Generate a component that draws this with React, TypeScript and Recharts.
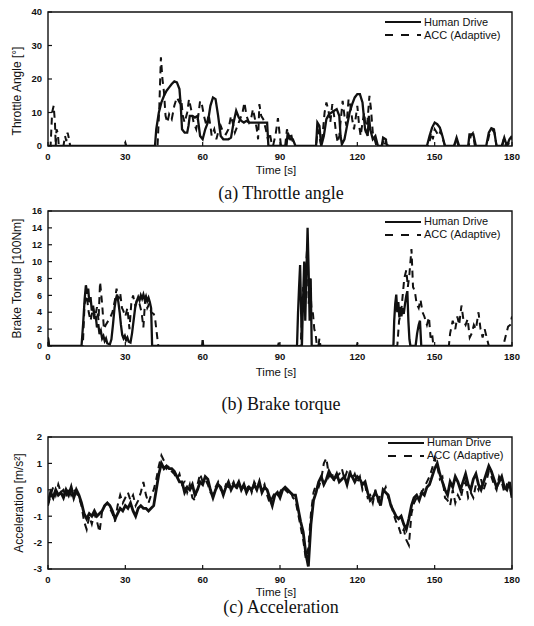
import React from 'react';
import { LineChart, Line, XAxis, YAxis, ReferenceArea, Label } from 'recharts';

type Pt = [number, number];

const timeTicks = [0, 30, 60, 90, 120, 150, 180];
const throttleTicks = [0, 10, 20, 30, 40];
const brakeTicks = [0, 2, 4, 6, 8, 10, 12, 14, 16];
const accelTicks = [-3, -2, -1, 0, 1, 2];

// (time [s], throttle angle [deg])
const throttleHuman: Pt[] = [
  [0, 0], [41.5, 0], [42, 5], [43, 10], [44, 13], [45, 15], [46, 16.5], [47, 17.5], [48, 18.5], [49, 19.3],
  [50, 19], [51, 17], [51.5, 12], [52, 5], [53, 4], [54, 4], [54.5, 6], [55, 9], [56, 9], [57, 8.5], [58, 9],
  [58.5, 6], [59, 3], [60, 2], [61, 5], [62, 7], [63, 12], [64, 14.5], [65, 14], [66, 9], [67, 3], [68, 2],
  [69, 2], [70, 2], [71, 2.5], [72, 7], [73, 10.5], [74, 8.5], [75, 7.5], [76, 7], [77, 7.5], [78, 7], [80, 7],
  [82, 7], [84, 7], [85, 7], [85.5, 0], [92.5, 0], [93, 4], [94, 2], [95, 2], [96, 0], [104, 0], [104.5, 7],
  [105.3, 6], [106, 0], [107, 3], [108, 8], [109, 9.5], [110, 10], [111, 10.5], [112, 11], [113, 9], [113.5, 3],
  [114, 0.5], [115, 2], [116, 6], [117, 10], [118, 12.5], [119, 14.5], [120, 15.5], [121, 15.5], [122, 13],
  [123, 5], [124, 3], [124.5, 9], [125, 5], [126, 2], [127, 3], [128, 0], [129.5, 0], [130, 2.5], [131, 2],
  [131.5, 0], [147, 0], [148, 3], [149, 5.5], [150, 7], [151, 6.5], [152, 5.5], [153, 3], [154, 0], [157.5, 0],
  [158.5, 2.5], [159.5, 0], [163, 0], [163.5, 3.5], [165, 3.5], [166, 0], [170, 0], [171, 4], [172, 5.3],
  [173, 5], [174, 0], [176, 0], [177, 2.5], [178, 0], [179, 2], [180, 3],
];

const throttleAcc: Pt[] = [
  [0, 0], [1, 0], [1.6, 10], [2.2, 12], [2.7, 7], [3, 0], [3.3, 5], [3.8, 4], [4.2, 0], [6, 0], [6.6, 3],
  [7.1, 1.5], [7.6, 4], [8.2, 2], [8.6, 0], [29.5, 0], [30, 1], [30.4, 0], [42.5, 0], [43.2, 12], [43.8, 26.5],
  [44.4, 20], [45, 16], [45.6, 9], [46.3, 7], [47, 9.5], [48, 8], [49, 12], [50, 14.5], [51, 13], [51.7, 14],
  [52.3, 9], [53, 7], [54, 10], [54.7, 14], [55.5, 11], [56.5, 7], [57.5, 5], [58.3, 9], [59, 13.5], [59.8, 12],
  [60.5, 9], [61.5, 6], [62.3, 9.5], [63, 6], [63.5, 3], [64.5, 5], [65.3, 2], [66, 4], [67, 6], [68, 4],
  [69, 3.5], [70, 5], [71, 9], [71.8, 6.5], [72.5, 4], [73.5, 6], [74.5, 8], [75.4, 9.7], [76.2, 13], [77, 9],
  [78, 7], [78.8, 8.2], [79.5, 11], [80.3, 8], [81, 5], [81.5, 2], [82, 12.5], [82.7, 9], [83.5, 8], [84.5, 5],
  [85.3, 2], [86, 4], [86.7, 1], [87.3, 0], [88.3, 3.5], [89.2, 8.3], [89.8, 4], [90.4, 0], [92, 0], [92.7, 5],
  [93.4, 2], [94.2, 4], [95, 1], [95.8, 0], [104, 0], [104.6, 5], [105.2, 3], [106, 0], [106.6, 4], [107.3, 10],
  [108, 13], [108.7, 11], [109.5, 7], [110.3, 12.5], [111, 9], [111.7, 4], [112.4, 1], [113, 3], [113.6, 8],
  [114.3, 13.5], [115, 9], [115.8, 6], [116.6, 14], [117.3, 12], [118, 8], [118.7, 5], [119.3, 8], [120, 12],
  [120.7, 6], [121.3, 3], [122, 7], [122.7, 10], [123.3, 4], [124, 8], [124.7, 15], [125.3, 11], [126, 4],
  [126.7, 2], [127.4, 0], [129.6, 0], [130.2, 2], [130.8, 0.5], [131.2, 2], [131.8, 0], [147.8, 0], [148.6, 4],
  [149.3, 2], [150, 5], [150.8, 4], [151.5, 3], [152.3, 4.5], [153.2, 2], [154, 0], [157.6, 0], [158.4, 2],
  [159.2, 0], [163.2, 0], [164, 3], [164.8, 3.8], [165.6, 0], [170.2, 0], [171.2, 3.5], [172.2, 5], [173.2, 4],
  [174, 0], [176.3, 0], [176.8, 2], [177.5, 0], [178.6, 0.5], [179.3, 2.5], [180, 2],
];

// (time [s], brake torque [100Nm])
const brakeHuman: Pt[] = [
  [0, 1], [0.4, 0], [13, 0], [13.6, 2.5], [14.2, 5.5], [14.7, 7.2], [15.2, 6.2], [15.6, 6.8], [16, 5.2],
  [16.5, 5.8], [17, 4.2], [17.5, 4.8], [18, 3.2], [18.5, 3.6], [19, 2.2], [19.5, 2.6], [20, 1.4], [20.5, 1.8],
  [21, 0.9], [21.5, 1.2], [22, 0.6], [22.5, 0.9], [23, 0.3], [24, 0.2], [24.6, 0.8], [25.2, 2.5], [25.8, 4.5],
  [26.3, 5.5], [26.8, 6.1], [27.3, 5.2], [27.8, 4], [28.3, 2.5], [28.8, 1.3], [29.3, 0.9], [29.8, 1.2],
  [30.3, 0.7], [30.8, 1], [31.3, 0.5], [32, 0.4], [32.6, 1.5], [33.2, 3], [33.8, 4.5], [34.4, 5.3], [35, 5.8],
  [35.5, 5.4], [36, 6], [36.5, 5.6], [37, 6.1], [37.5, 5.5], [38, 5.9], [38.5, 5.3], [39, 5.7], [39.5, 5.2],
  [40, 4.5], [40.4, 0], [59.8, 0], [60, 0.7], [60.2, 0], [96.6, 0], [97, 4], [97.4, 7], [97.8, 9.6], [98.2, 4],
  [98.5, 0], [98.9, 5], [99.4, 10], [99.8, 3], [100.2, 8], [100.7, 14], [101.1, 9], [101.5, 3], [101.9, 8],
  [102.3, 0], [134, 0], [134.3, 3], [134.7, 5], [135.1, 6.1], [135.5, 4], [135.9, 5.2], [136.3, 3.4],
  [136.7, 4.6], [137.1, 3.5], [137.5, 4.5], [138, 3.8], [138.5, 5], [139, 6], [139.4, 6.5], [139.8, 3],
  [140.2, 0.8], [140.6, 0], [142.6, 0], [143.2, 1.5], [143.8, 2.5], [144.3, 3], [144.8, 0], [180, 0],
];

const brakeAcc: Pt[] = [
  [0, 1], [0.4, 0], [13.5, 0], [14.2, 5], [15, 6], [15.8, 4], [16.5, 3], [17.5, 4.5], [18.3, 3.5], [19, 4.6],
  [19.6, 3], [20.2, 7.6], [21, 5], [21.7, 2], [22.4, 2.5], [23.4, 3], [24.3, 3.5], [25, 4], [26, 5.5],
  [26.6, 6.8], [27.3, 5.5], [28, 6.3], [28.7, 4.5], [29.2, 4.2], [30, 3.5], [30.8, 4.5], [31.6, 2], [32.3, 5],
  [33, 6], [33.8, 4.8], [34.6, 5.5], [35.5, 5], [36.3, 4], [37, 2.2], [37.7, 5.5], [38.5, 4.5], [39.3, 5],
  [40, 4], [41, 3.8], [41.5, 3.4], [42, 2], [42.4, 1], [42.8, 0], [89.2, 0], [89.5, 0.4], [89.8, 0], [98, 0],
  [98.5, 3], [99, 7], [99.5, 4], [100, 9], [100.6, 12], [101.1, 5], [101.6, 8], [102.2, 4.5], [102.8, 3.8],
  [103.3, 2], [103.8, 1.5], [104.3, 0], [104.9, 0], [105.3, 0.9], [105.7, 0], [119.8, 0], [120.2, 0.5],
  [120.5, 0], [135.5, 0], [136.2, 3], [137, 4], [137.6, 6], [138.2, 8], [139, 9], [139.6, 7], [140.2, 8.5],
  [141, 11.5], [141.6, 7], [142.3, 6.5], [143, 5], [143.8, 4.5], [144.5, 5.5], [145.3, 4], [146, 3.5],
  [147, 2.5], [147.8, 3.4], [148.4, 1], [149, 1.5], [149.5, 0], [155.5, 0], [156, 1.5], [157, 3], [158, 2],
  [158.8, 3.5], [159.5, 2.5], [160.4, 4.8], [161.2, 3], [162, 2.5], [162.8, 3.2], [163.6, 1], [164.4, 1.5],
  [165.2, 2.5], [166, 2], [167, 4], [167.8, 2], [168.6, 1], [169.4, 2], [170.2, 1], [171, 0], [176.5, 0],
  [177, 0.5], [177.8, 1.5], [178.5, 2.3], [179.3, 2.5], [180, 3.5],
];

// (time [s], acceleration [m/s^2])
const accelHuman: Pt[] = [
  [0, -0.5], [1, -0.1], [2, -0.3], [3, 0], [4, -0.2], [5, -0.1], [6, -0.3], [7, 0], [8, -0.2], [9, 0.1],
  [10, -0.3], [11, 0], [12, -0.2], [13, -0.5], [14, -0.9], [15, -1.1], [16, -0.9], [17, -1], [18, -0.8],
  [19, -1], [20, -0.9], [21, -0.8], [22, -0.6], [23, -0.5], [24, -0.6], [25, -0.8], [26, -1.1], [27, -0.9],
  [28, -0.7], [29, -0.8], [30, -0.6], [31, -0.7], [32, -0.5], [33, -0.8], [34, -1], [35, -0.7], [36, -0.6],
  [37, -0.7], [38, -0.7], [39, -0.8], [40, -0.7], [41, -0.6], [42, 0], [43, 0.6], [44, 1], [45, 0.8],
  [46, 0.9], [47, 0.8], [48, 0.8], [49, 0.7], [50, 0.5], [51, 0.3], [52, 0.3], [53, -0.1], [54, 0.1], [55, 0],
  [56, 0.2], [57, -0.2], [58, 0], [59, 0.3], [60, 0.2], [61, 0.5], [62, 0.4], [63, 0], [64, -0.3], [65, 0],
  [66, 0.2], [67, 0.1], [68, -0.2], [69, 0.1], [70, 0.3], [71, 0], [72, 0.2], [73, 0.1], [74, 0.3], [75, 0],
  [76, 0.2], [77, -0.1], [78, 0.1], [79, 0], [80, 0.2], [81, 0], [82, 0.3], [83, -0.1], [84, 0.1], [85, 0],
  [86, -0.3], [87, -0.6], [88, -0.2], [89, -0.1], [90, -0.3], [91, 0], [92, 0.1], [93, 0], [94, -0.1],
  [95, -0.2], [96, -0.2], [97, -0.7], [98, -1.2], [99, -1.6], [100, -2.4], [101, -2.9], [102, -1.3],
  [103, -0.4], [104, -0.1], [105, 0.3], [106, 0.5], [107, 0.2], [108, 0.4], [109, 0.7], [110, 0.5],
  [111, 0.4], [112, 0.6], [113, 0.3], [114, 0.4], [115, 0.5], [116, 0.2], [117, 0.6], [118, 0.5], [119, 0.3],
  [120, 0.5], [121, 0.4], [122, 0.2], [123, 0.3], [124, -0.1], [125, -0.4], [126, -0.3], [127, -0.1],
  [128, -0.3], [129, -0.6], [130, 0], [131, -0.1], [132, -0.2], [133, -0.6], [134, -0.8], [135, -1],
  [136, -1.1], [137, -1], [138, -1.3], [139, -1.5], [140, -1.1], [141, -0.6], [142, -0.3], [143, -0.2],
  [144, -0.4], [145, -0.1], [146, -0.2], [147, 0.1], [148, 0.2], [149, 0.5], [150, 0.8], [151, 1], [152, 0.6],
  [153, 0.3], [154, 0], [155, -0.2], [156, 0.3], [157, 0.1], [158, 0.5], [159, 0.3], [160, 0], [161, 0.3],
  [162, 0.6], [163, 0.2], [164, 0], [165, 0.4], [166, 0.6], [167, 0.2], [168, 0], [169, 0.3], [170, 0.6],
  [171, 0.9], [172, 0.7], [173, 0.4], [174, 0.1], [175, 0.3], [176, 0.5], [177, 0.1], [178, 0], [179, 0.3],
  [180, -0.3],
];

const accelAcc: Pt[] = [
  [0, -0.6], [1, -0.2], [2, 0.1], [3, -0.2], [4, 0.2], [5, -0.1], [6, 0], [7, -0.3], [8, 0.1], [9, -0.2],
  [10, 0], [11, -0.1], [12, -0.3], [13, -0.6], [14, -1.2], [15, -1.5], [16, -1], [17, -1.3], [18, -0.9],
  [19, -1.2], [20, -1.6], [21, -0.8], [22, -0.6], [23, -0.5], [24, -0.7], [25, -0.9], [26, -1.2], [27, -0.6],
  [28, -0.2], [29, -0.5], [30, -0.3], [31, -0.1], [32, -0.4], [33, -0.2], [34, -0.6], [35, -0.4], [36, -0.1],
  [37, 0.3], [38, -0.2], [39, -0.5], [40, -0.2], [41, 0], [42, 0.4], [43, 0.9], [44, 1.3], [45, 1.1],
  [46, 0.8], [47, 0.9], [48, 0.7], [49, 0.6], [50, 0.4], [51, 0.6], [52, 0.2], [53, 0.3], [54, -0.1],
  [55, 0.2], [56, -0.3], [57, -0.4], [58, 0.2], [59, 0.6], [60, 0.3], [61, 0.4], [62, 0.2], [63, -0.1],
  [64, -0.2], [65, 0.1], [66, 0.3], [67, 0], [68, -0.1], [69, 0.2], [70, 0.1], [71, 0.1], [72, 0.3], [73, 0],
  [74, 0.2], [75, 0.1], [76, 0.1], [77, 0], [78, 0.2], [79, -0.1], [80, 0.3], [81, 0.1], [82, 0.2], [83, 0],
  [84, 0.2], [85, -0.2], [86, -0.5], [87, -0.3], [88, -0.1], [89, -0.2], [90, -0.1], [91, 0.1], [92, 0],
  [93, -0.1], [94, 0], [95, -0.3], [96, -0.4], [97, -0.9], [98, -1.4], [99, -1.9], [100, -2.6], [101, -2.2],
  [102, -0.9], [103, -0.1], [104, 0.2], [105, 0.1], [106, 0.4], [107, 1], [108, 1.2], [109, 0.5], [110, 0.7],
  [111, 0.3], [112, 0.5], [113, 0.6], [114, 0.8], [115, 0.4], [116, 0.7], [117, 0.8], [118, 0.4], [119, 0.6],
  [120, 0.3], [121, 0.5], [122, 0], [123, 0.2], [124, -0.3], [125, -0.2], [126, -0.5], [127, 0], [128, -0.4],
  [129, -0.2], [130, -0.1], [131, 0.1], [132, -0.3], [133, -0.5], [134, -0.9], [135, -1.2], [136, -1.4],
  [137, -1.7], [138, -1.5], [139, -1.9], [140, -2.1], [141, -0.9], [142, -0.5], [143, -0.3], [144, -0.2],
  [145, -0.1], [146, 0.1], [147, 0.3], [148, 0.5], [149, 0.8], [150, 1.2], [151, 0.9], [152, 0.4], [153, 0.5],
  [154, -0.3], [155, -0.4], [156, -0.6], [157, 0], [158, -0.5], [159, -0.2], [160, -0.4], [161, 0.1],
  [162, 0.3], [163, -0.3], [164, -0.1], [165, -0.3], [166, 0.2], [167, 0], [168, 0.4], [169, 0], [170, 0.3],
  [171, 0.7], [172, 0.5], [173, 0.2], [174, 0], [175, 0.5], [176, 0.3], [177, -0.1], [178, 0.2], [179, 0.1],
  [180, -0.2],
];

const SANS = '"Liberation Sans", Arial, Helvetica, sans-serif';
const SERIF = '"Liberation Serif", "Times New Roman", serif';
const INK = '#111';
const W = 534;

const toRows = (pts: Pt[]) => pts.map(([t, v]) => ({ t, v }));

interface PanelProps {
  top: number;
  marginTop: number;
  marginBottom: number;
  yDomain: [number, number];
  yTicks: number[];
  yLabel: string;
  yLabelDx: number;
  yLabelDy: number;
  yTickSize: number;
  timeOffset: number;
  human: Pt[];
  acc: Pt[];
  solidWidth: number;
  legendRows: [number, number];
  legendLeft: number;
  caption: string;
  captionY: number;
}

const LegendSample = ({ dashed }: { dashed: boolean }) => (
  <svg width={36} height={6} style={{ display: 'block' }}>
    <line x1={0} y1={3} x2={36} y2={3} stroke={INK} strokeWidth={2}
      strokeDasharray={dashed ? '8 8' : undefined} />
  </svg>
);

const Panel = (p: PanelProps) => {
  const H = 185;
  const rows = [
    { y: p.legendRows[0], text: 'Human Drive', dashed: false },
    { y: p.legendRows[1], text: 'ACC (Adaptive)', dashed: true },
  ];
  return (
    <>
      <div style={{ position: 'absolute', left: 0, top: p.top, width: W, height: H }}>
        <LineChart width={W} height={H} margin={{ top: p.marginTop, right: 22, left: 8, bottom: p.marginBottom }}>
          <XAxis dataKey="t" type="number" domain={[0, 180]} ticks={timeTicks} allowDataOverflow
            height={30} axisLine={false} tickSize={-4} tickMargin={11}
            tickLine={{ stroke: INK, strokeWidth: 1.2 }}
            tick={{ fill: INK, fontSize: 9.5, fontFamily: SANS, fontWeight: 700 }}>
            <Label value="Time [s]" position="insideBottom" offset={p.timeOffset} dx={-4}
              style={{ fill: INK, fontSize: 11.5, fontFamily: SANS }} />
          </XAxis>
          <YAxis type="number" domain={p.yDomain} ticks={p.yTicks} allowDataOverflow width={40}
            axisLine={false} tickSize={-4} tickMargin={10} tickLine={{ stroke: INK, strokeWidth: 1.2 }}
            tick={{ fill: INK, fontSize: p.yTickSize, fontFamily: SANS, fontWeight: 700 }}>
            <Label value={p.yLabel} angle={-90} position="insideLeft" dx={p.yLabelDx} dy={p.yLabelDy}
              style={{ fill: INK, fontSize: 12, fontFamily: SANS, textAnchor: 'middle' }} />
          </YAxis>
          <ReferenceArea x1={0} x2={180} y1={p.yDomain[0]} y2={p.yDomain[1]} fill="none"
            stroke={INK} strokeWidth={1.4} />
          <Line data={toRows(p.human)} dataKey="v" type="linear" stroke={INK} strokeWidth={p.solidWidth}
            dot={false} isAnimationActive={false} />
          <Line data={toRows(p.acc)} dataKey="v" type="linear" stroke={INK} strokeWidth={2}
            strokeDasharray="7 5" dot={false} isAnimationActive={false} />
        </LineChart>
      </div>
      {rows.map((r) => (
        <div key={r.text} style={{
          position: 'absolute', left: p.legendLeft, top: r.y - 5.5, height: 11,
          display: 'flex', alignItems: 'center', gap: 3, fontFamily: SANS, fontSize: 11,
          color: INK, whiteSpace: 'nowrap', lineHeight: '11px',
        }}>
          <LegendSample dashed={r.dashed} />
          <span>{r.text}</span>
        </div>
      ))}
      <div style={{
        position: 'absolute', left: 48, width: 466, top: p.captionY - 11, height: 22,
        lineHeight: '22px', textAlign: 'center', fontFamily: SERIF, fontSize: 18, color: INK,
      }}>
        {p.caption}
      </div>
    </>
  );
};

export default function App() {
  return (
    <div style={{ position: 'absolute', left: 0, top: 0, width: W, height: 626, background: '#fff' }}>
      <Panel top={0} marginTop={12} marginBottom={9} yDomain={[0, 40]} yTicks={throttleTicks}
        yLabel="Throttle Angle [°]" yLabelDx={4} yLabelDy={12} yTickSize={9.5} timeOffset={2}
        human={throttleHuman} acc={throttleAcc} solidWidth={2.3} legendRows={[22, 35]} legendLeft={385}
        caption="(a) Throttle angle" captionY={193} />
      <Panel top={200} marginTop={11} marginBottom={9} yDomain={[0, 16]} yTicks={brakeTicks}
        yLabel="Brake Torque [100Nm]" yLabelDx={4} yLabelDy={0} yTickSize={9} timeOffset={0}
        human={brakeHuman} acc={brakeAcc} solidWidth={2.3} legendRows={[221.5, 234.5]} legendLeft={385}
        caption="(b) Brake torque" captionY={404} />
      <Panel top={426} marginTop={11} marginBottom={12} yDomain={[-3, 2]} yTicks={accelTicks}
        yLabel="Acceleration [m/s²]" yLabelDx={6} yLabelDy={0} yTickSize={9.5} timeOffset={3}
        human={accelHuman} acc={accelAcc} solidWidth={2.8} legendRows={[442.5, 455.5]} legendLeft={388}
        caption="(c) Acceleration" captionY={607} />
    </div>
  );
}
